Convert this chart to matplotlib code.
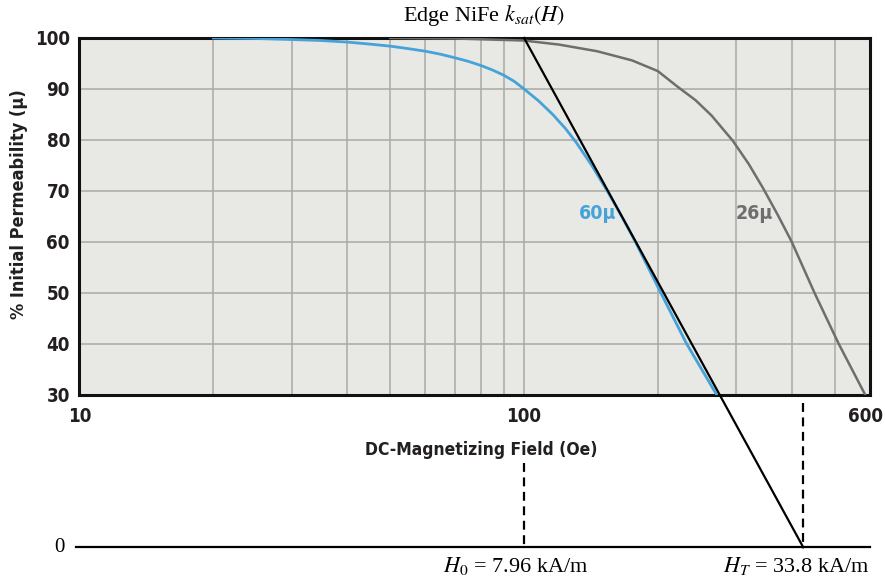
import numpy as np
import matplotlib.pyplot as plt
from matplotlib.transforms import ScaledTranslation

# values
h_60 = [20, 25, 30, 35, 40, 45, 50, 55, 60, 65, 70, 75, 80, 85, 90, 95, 100,
        108, 116, 124, 131, 142, 155, 166, 178, 203, 232, 271]
mu_60 = [100, 99.9, 99.7, 99.5, 99.2, 98.8, 98.4, 97.9, 97.4, 96.8, 96.1, 95.4,
         94.6, 93.7, 92.7, 91.5, 90, 87.6, 85, 82.2, 79.5, 75, 69.5, 64.9, 60, 50, 40, 30]

h_26 = [50, 70, 100, 120, 146, 175, 200, 221, 243, 264, 295, 320, 345, 372,
        400, 450, 510, 585]
mu_26 = [100, 99.9, 99.5, 98.7, 97.4, 95.6, 93.5, 90.5, 87.8, 84.8, 79.8, 75.3,
         70.5, 65.3, 60, 50, 40, 30]

# tangent line: H0 and HT in kA/m
h0_kam = 7.96
ht_kam = 33.8
oe = 1000 / (4 * np.pi)  # A/m per Oe
h0 = h0_kam * 1000 / oe
ht = ht_kam * 1000 / oe

x_ticks = [10, 100, 600]
x_grid = [20, 30, 40, 50, 60, 70, 80, 90, 100, 200, 300, 400, 500]
y_ticks = [30, 40, 50, 60, 70, 80, 90, 100]

plt.rcParams['mathtext.fontset'] = 'stix'
cond = dict(family=['DejaVu Sans'], fontstretch='condensed', fontweight='bold')
serif = ['Liberation Serif', 'DejaVu Serif']
ink = '#231f20'

fig = plt.figure(figsize=(8.85, 5.8), dpi=100)
ax = fig.add_axes([0.0898, 0.3198, 0.8932, 0.6147])
ax.set_facecolor('#e8e8e4')
ax.set_xscale('log')
ax.set_xlim(10, 600)
ax.set_ylim(30, 100)

# grid
ax.set_xticks(x_ticks)
ax.set_xticklabels([str(t) for t in x_ticks])
ax.set_xticks(x_grid, minor=True)
ax.set_xticklabels([], minor=True)
ax.set_yticks(y_ticks)
ax.grid(True, which='both', color='#a9a9a6', linewidth=1.1)
ax.set_axisbelow(True)
ax.tick_params(which='both', length=0)
ax.tick_params(axis='x', pad=9)
ax.tick_params(axis='y', pad=7)
for lab in ax.get_xticklabels() + ax.get_yticklabels():
    lab.set_family(cond['family'])
    lab.set_fontstretch('condensed')
    lab.set_fontweight('bold')
    lab.set_fontsize(13.5)
    lab.set_color(ink)
last = ax.get_xticklabels()[-1]
last.set_transform(last.get_transform() + ScaledTranslation(-4 / 100, 0, fig.dpi_scale_trans))

for s in ax.spines.values():
    s.set_linewidth(2.2)
    s.set_color('#111111')

# curves
ax.plot(h_60, mu_60, color='#45a3d9', linewidth=2.0, zorder=3)
ax.plot(h_26, mu_26, color='#6e6e6e', linewidth=1.8, zorder=3)
ax.text(146, 65.6, '60μ', color='#45a3d9', fontsize=14, ha='center',
        va='center', **cond)
ax.text(330, 65.6, '26μ', color='#6e6e6e', fontsize=14, ha='center',
        va='center', **cond)

# tangent line, baseline and dashed markers
ax.plot([h0, ht], [100, 0], color='black', linewidth=1.6, clip_on=False, zorder=5)
ax.plot([9.8, 600], [0, 0], color='black', linewidth=1.6, clip_on=False, zorder=5)
ax.plot([h0, h0], [16.5, 0], color='black', linewidth=1.6, linestyle=(0, (4, 2.5)),
        clip_on=False, zorder=5)
ax.plot([ht, ht], [28.3, 0], color='black', linewidth=1.6, linestyle=(0, (4, 2.5)),
        clip_on=False, zorder=5)

ax.text(9.0, 0, '0', family=serif, fontsize=15, ha='center', va='center')
ax.text(h0 * 0.96, -1.5, r'$H_0$ = %.2f kA/m' % h0_kam, family=serif, fontsize=16,
        ha='center', va='top')
ax.text(ht * 0.965, -1.5, r'$H_T$ = %.1f kA/m' % ht_kam, family=serif, fontsize=16,
        ha='center', va='top')

ax.set_xlabel('DC-Magnetizing Field (Oe)', fontsize=12.5, color=ink, **cond)
ax.xaxis.set_label_coords(0.5085, -0.13)
ax.set_ylabel('% Initial Permeability (μ)', fontsize=13, color=ink, **cond)
ax.yaxis.set_label_coords(-0.065, 0.535)

fig.text(484 / 885, 1 - 15 / 580, r'Edge NiFe $k_{sat}(H)$', family=serif,
         fontsize=16, ha='center', va='center')

fig.savefig('out.png', dpi=100)
